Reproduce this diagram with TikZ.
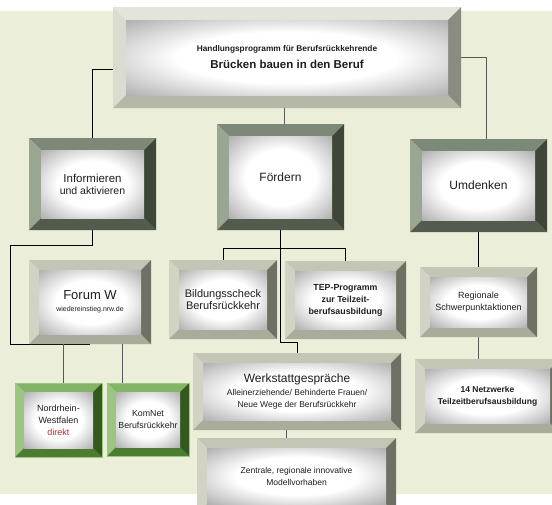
\documentclass[tikz,border=0pt]{standalone}
\usepackage{fontspec}
\setmainfont{Liberation Sans}
\usetikzlibrary{backgrounds}
\definecolor{bgbeige}{HTML}{EBEED8}
\definecolor{hT}{HTML}{E3E4DA}\definecolor{hL}{HTML}{DBDCD0}\definecolor{hB}{HTML}{B5B7A7}\definecolor{hR}{HTML}{8A8C82}
\definecolor{dT}{HTML}{7C8878}\definecolor{dL}{HTML}{9BA594}\definecolor{dB}{HTML}{535B4F}\definecolor{dR}{HTML}{3E4638}
\definecolor{lT}{HTML}{C4C5B5}\definecolor{lL}{HTML}{D2D3C5}\definecolor{lB}{HTML}{A9AB9B}\definecolor{lR}{HTML}{6E7064}
\definecolor{gT}{HTML}{84B466}\definecolor{gL}{HTML}{9CC582}\definecolor{gB}{HTML}{4C7C30}\definecolor{gR}{HTML}{34591F}
\definecolor{dirred}{HTML}{C0282D}
\definecolor{txt}{HTML}{1E1E1E}
\pgfdeclareradialshading{facesh}{\pgfpoint{0bp}{0bp}}{color(0bp)=(white); color(17bp)=(white); color(36bp)=(black!32); color(50bp)=(black!32)}
\newcommand\fsz[2]{\fontsize{#1}{#2}\selectfont}
\newcommand\bevelpic[5]{%
  \fill[#2] (path picture bounding box.north west) -- (path picture bounding box.north east)
     -- ([xshift=-#1,yshift=-#1]path picture bounding box.north east)
     -- ([xshift=#1,yshift=-#1]path picture bounding box.north west) -- cycle;
  \fill[#3] (path picture bounding box.north west) -- ([xshift=#1,yshift=-#1]path picture bounding box.north west)
     -- ([xshift=#1,yshift=#1]path picture bounding box.south west)
     -- (path picture bounding box.south west) -- cycle;
  \fill[#4] (path picture bounding box.south west) -- ([xshift=#1,yshift=#1]path picture bounding box.south west)
     -- ([xshift=-#1,yshift=#1]path picture bounding box.south east)
     -- (path picture bounding box.south east) -- cycle;
  \fill[#5] (path picture bounding box.north east) -- (path picture bounding box.south east)
     -- ([xshift=-#1,yshift=#1]path picture bounding box.south east)
     -- ([xshift=-#1,yshift=-#1]path picture bounding box.north east) -- cycle;
  \shade[shading=facesh]
     ([xshift=#1,yshift=-#1]path picture bounding box.north west)
     rectangle ([xshift=-#1,yshift=#1]path picture bounding box.south east);
}
\tikzset{
  bbox/.style={inner sep=0pt, align=center, text=txt},
  headbox/.style={bbox, path picture={\bevelpic{13pt}{hT}{hL}{hB}{hR}}},
  darkbox/.style={bbox, path picture={\bevelpic{12pt}{dT}{dL}{dB}{dR}}},
  lightbox/.style={bbox, path picture={\bevelpic{10pt}{lT}{lL}{lB}{lR}}},
  greenbox/.style={bbox, draw=gL, line width=0.6pt, path picture={\bevelpic{9pt}{gT}{gL}{gB}{gR}}},
  conn/.style={draw=black, line width=0.9pt},
  gconn/.style={draw=black!65, line width=1pt},
}
\begin{document}
\begin{tikzpicture}[x=1pt,y=-1pt]
\useasboundingbox (0,0) rectangle (552,504);

\node[headbox, minimum width=348pt, minimum height=101pt] (head) at (287,57.5)
  {\fsz{8.3}{10}\bfseries Handlungsprogramm für Berufsrückkehrende\\[5pt]
   \fsz{11.5}{13}\bfseries Brücken bauen in den Beruf};

\node[darkbox, minimum width=127pt, minimum height=92pt] (inf) at (92.5,184)
  {\fsz{11.5}{15}Informieren\\\fsz{10.5}{13}und aktivieren};
\node[darkbox, minimum width=127pt, minimum height=106pt] (foe) at (280.5,177)
  {\fsz{12}{14}Fördern};
\node[darkbox, minimum width=137pt, minimum height=93pt] (umd) at (478.5,185.5)
  {\fsz{12}{14}Umdenken};

\node[lightbox, minimum width=122pt, minimum height=84pt] (forum) at (90,302)
  {\fsz{13}{14}Forum W\\\fsz{7}{9}wiedereinstieg.nrw.de};
\node[lightbox, minimum width=108pt, minimum height=79pt] (bild) at (223,299.5)
  {\fsz{11}{13}Bildungsscheck\\\fsz{11}{13}Berufsrückkehr};
\node[lightbox, minimum width=121pt, minimum height=78pt] (tep) at (345.5,300)
  {\fsz{8.8}{12}\bfseries TEP-Programm\\\fsz{8.8}{12}\bfseries zur Teilzeit-\\\fsz{8.8}{12}\bfseries berufsausbildung};
\node[lightbox, minimum width=117pt, minimum height=70pt] (reg) at (478.5,302)
  {\fsz{9}{12}Regionale\\\fsz{9}{12}Schwerpunktaktionen};
\node[lightbox, minimum width=208pt, minimum height=77pt] (werk) at (297,391.5)
  {\fsz{12}{14}Werkstattgespräche\\[1pt]\fsz{8.5}{11}Alleinerziehende/ Behinderte Frauen/\\\fsz{8.5}{11}Neue Wege der Berufsrückkehr};
\node[lightbox, minimum width=199pt, minimum height=76pt] (zen) at (296.5,476)
  {\fsz{8.5}{12}Zentrale, regionale innovative\\\fsz{8.5}{12}Modellvorhaben};
\node[lightbox, minimum width=145pt, minimum height=74pt] (netz) at (487.5,396)
  {\fsz{8.5}{11}\bfseries 14 Netzwerke\\\fsz{8.5}{11}\bfseries Teilzeitberufsausbildung};

\node[greenbox, minimum width=87pt, minimum height=74pt] (nrw) at (58.5,420)
  {\fsz{9}{11}Nordrhein-\\\fsz{9}{11}Westfalen\\\fsz{9}{11}\textcolor{dirred}{direkt}};
\node[greenbox, minimum width=82pt, minimum height=73pt] (kom) at (148,419.5)
  {\fsz{8.8}{11}KomNet\\\fsz{8.8}{11}Berufsrückkehr};

\begin{pgfonlayer}{background}
  \fill[bgbeige] (0,11) rectangle (552,494);
  \draw[conn] ([yshift=-11.5pt]head.west) -| (inf.north);
  \draw[gconn] ([xshift=4pt]foe.north) -- ([xshift=4pt]foe.north |- head.south);
  \draw[gconn] (head.east) -| ([xshift=7.5pt]umd.north);
  \draw[conn] (inf.south) -- ++(0,15) -| ([xshift=-18pt]forum.south west) -- (forum.south);
  \draw[gconn] ([xshift=-27pt]forum.south) -- ([xshift=-27pt]forum.south |- nrw.north);
  \draw[gconn] ([xshift=32pt]forum.south) -- ([xshift=32pt]forum.south |- kom.north);
  \draw[conn] (foe.south) |- ([yshift=10pt]werk.north) -- (werk.north);
  \draw[conn] (bild.north) -- ++(0,-11) -| (tep.north);
  \draw[gconn] ([xshift=-11pt]werk.south) -- ([xshift=-11pt]werk.south |- zen.north);
  \draw[conn] (umd.south) -- (reg.north);
  \draw[gconn] (reg.south) -- (reg.south |- netz.north);
\end{pgfonlayer}
\end{tikzpicture}
\end{document}
